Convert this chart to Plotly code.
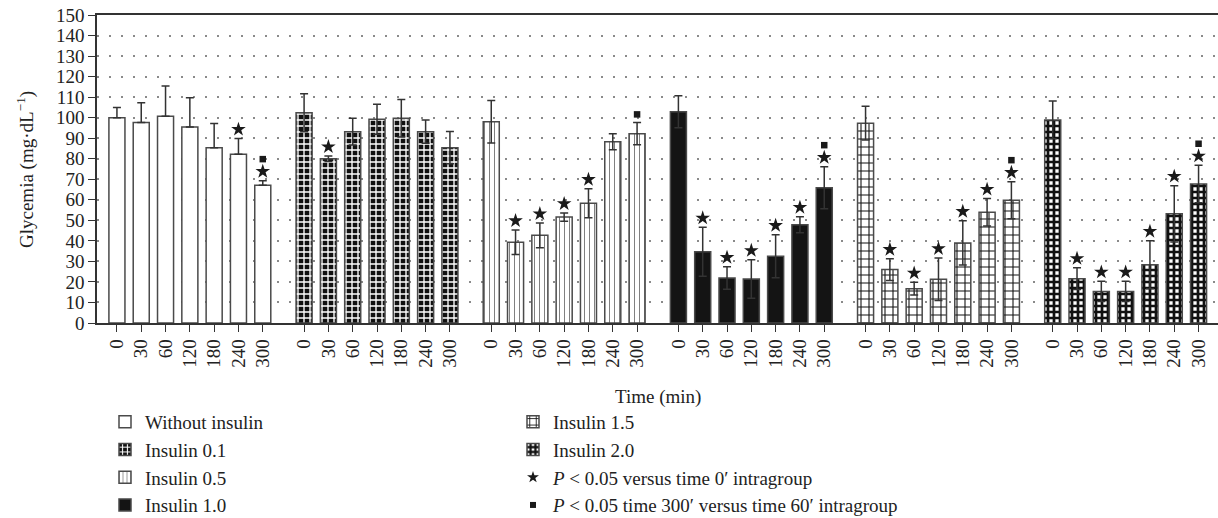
import plotly.graph_objects as go

# ---------------- data ----------------
times = ["0", "30", "60", "120", "180", "240", "300"]
group_names = ["Without insulin", "Insulin 0.1", "Insulin 0.5",
               "Insulin 1.0", "Insulin 1.5", "Insulin 2.0"]

mean_without = [100.0, 97.7, 100.7, 95.5, 85.4, 82.2, 67.1]
err_without = [5.0, 9.6, 14.7, 14.2, 11.7, 7.6, 2.2]

mean_ins01 = [102.4, 80.0, 93.2, 99.2, 99.7, 93.2, 85.4]
err_ins01 = [9.3, 1.3, 6.5, 7.3, 9.1, 5.7, 7.9]

mean_ins05 = [98.0, 39.3, 42.7, 51.6, 58.3, 88.3, 92.2]
err_ins05 = [10.3, 6.0, 6.0, 2.0, 7.1, 3.9, 5.4]

mean_ins10 = [102.9, 34.7, 21.9, 21.4, 32.5, 47.9, 65.9]
err_ins10 = [7.8, 11.9, 5.5, 9.4, 10.5, 3.9, 10.2]

mean_ins15 = [97.3, 26.0, 16.7, 21.3, 39.0, 53.9, 59.8]
err_ins15 = [8.2, 5.3, 3.1, 10.4, 10.8, 6.7, 9.0]

mean_ins20 = [98.9, 21.6, 15.4, 15.4, 28.4, 53.2, 67.7]
err_ins20 = [9.2, 5.3, 4.9, 4.9, 11.7, 13.7, 9.1]

# significance flags (1 = marker shown)
star_without = [0, 0, 0, 0, 0, 1, 1]
star_ins01 = [0, 1, 0, 0, 0, 0, 0]
star_ins05 = [0, 1, 1, 1, 1, 0, 0]
star_ins10 = [0, 1, 1, 1, 1, 1, 1]
star_ins15 = [0, 1, 1, 1, 1, 1, 1]
star_ins20 = [0, 1, 1, 1, 1, 1, 1]

square_without = [0, 0, 0, 0, 0, 0, 1]
square_ins01 = [0, 0, 0, 0, 0, 0, 0]
square_ins05 = [0, 0, 0, 0, 0, 0, 1]
square_ins10 = [0, 0, 0, 0, 0, 0, 1]
square_ins15 = [0, 0, 0, 0, 0, 0, 1]
square_ins20 = [0, 0, 0, 0, 0, 0, 1]

means = [mean_without, mean_ins01, mean_ins05, mean_ins10, mean_ins15, mean_ins20]
errs = [err_without, err_ins01, err_ins05, err_ins10, err_ins15, err_ins20]
stars = [star_without, star_ins01, star_ins05, star_ins10, star_ins15, star_ins20]
squares = [square_without, square_ins01, square_ins05, square_ins10, square_ins15, square_ins20]

# ---------------- styles ----------------
FONT = "Liberation Serif"
GROUP_STEP = 7.7
OUTLINE = "#4a4a4a"

styles = [
    dict(color="white", pattern=dict(shape="")),
    dict(color="black", pattern=dict(shape="+", bgcolor="#111111", fgcolor="white",
                                     size=6, solidity=0.4, fillmode="replace")),
    dict(color="white", pattern=dict(shape="|", bgcolor="white", fgcolor="#555555",
                                     size=5, solidity=0.15, fillmode="replace")),
    dict(color="#141414", pattern=dict(shape="")),
    dict(color="white", pattern=dict(shape="+", bgcolor="white", fgcolor="#111111",
                                     size=8, solidity=0.25, fillmode="replace")),
    dict(color="white", pattern=dict(shape="+", bgcolor="white", fgcolor="#111111",
                                     size=6, solidity=0.7, fillmode="replace")),
]

fig = go.Figure()

tickvals, ticktext = [], []
star_x, star_y, sq_x, sq_y = [], [], [], []

for g, (name, m, e, st, sq, sty) in enumerate(zip(group_names, means, errs, stars, squares, styles)):
    xs = [g * GROUP_STEP + i for i in range(len(times))]
    tickvals += xs
    ticktext += times
    minus = [0] * len(e) if g == 0 else e
    fig.add_trace(go.Bar(
        x=xs, y=m, name=name, width=0.66,
        marker=dict(color=sty["color"], pattern=sty["pattern"],
                    line=dict(color=OUTLINE, width=1.5)),
        error_y=dict(type="data", symmetric=False, array=e, arrayminus=minus,
                     color="#333333", thickness=1.5, width=4),
        legend="legend" if g < 4 else "legend2",
    ))
    for i, x in enumerate(xs):
        top = m[i] + e[i]
        if st[i]:
            star_x.append(x)
            star_y.append(top + 4.5)
            if sq[i]:
                sq_x.append(x)
                sq_y.append(top + 10.5)
        elif sq[i]:
            sq_x.append(x)
            sq_y.append(top + 4.0)

fig.add_trace(go.Scatter(x=star_x, y=star_y, mode="markers", showlegend=False,
                         marker=dict(symbol="star", size=11, color="#1a1a1a")))
fig.add_trace(go.Scatter(x=sq_x, y=sq_y, mode="markers", showlegend=False,
                         marker=dict(symbol="square", size=6.5, color="#1a1a1a")))

# legend-only entries for the significance markers
fig.add_trace(go.Scatter(x=[None], y=[None], mode="markers", legend="legend2",
                         name="<i>P</i> &lt; 0.05 versus time 0\u2032 intragroup",
                         marker=dict(symbol="star", size=9, color="#1a1a1a")))
fig.add_trace(go.Scatter(x=[None], y=[None], mode="markers", legend="legend2",
                         name="<i>P</i> &lt; 0.05 time 300\u2032 versus time 60\u2032 intragroup",
                         marker=dict(symbol="square", size=6, color="#1a1a1a")))

leg_common = dict(orientation="v", xref="container", yref="container",
                  xanchor="left", yanchor="top", bgcolor="rgba(0,0,0,0)",
                  font=dict(family=FONT, size=19, color="#222"),
                  traceorder="normal", itemwidth=30)

fig.update_layout(
    width=1218, height=518,
    margin=dict(l=97, r=0, t=15, b=195, autoexpand=False),
    paper_bgcolor="white", plot_bgcolor="white",
    barmode="overlay",
    font=dict(family=FONT, size=19, color="#222"),
    legend=dict(x=105 / 1218, y=1 - 403 / 518, **leg_common),
    legend2=dict(x=513 / 1218, y=1 - 403 / 518, **leg_common),
    xaxis=dict(
        range=[-0.82, 45.3], tickmode="array", tickvals=tickvals, ticktext=ticktext,
        tickangle=-90, ticks="outside", ticklen=7, tickwidth=1.2, tickcolor="#333",
        showline=True, linecolor="#333", linewidth=1.5, mirror=True,
        showgrid=False, zeroline=False, automargin=False,
        tickfont=dict(family=FONT, size=19, color="#222"),
    ),
    yaxis=dict(
        range=[0, 150], tickmode="linear", tick0=0, dtick=10,
        ticks="outside", ticklen=7, tickwidth=1.2, tickcolor="#333",
        showline=True, linecolor="#333", linewidth=1.5,
        showgrid=True, gridcolor="#8a8a8a", gridwidth=1.5, griddash="2px,10px",
        zeroline=False, automargin=False,
        tickfont=dict(family=FONT, size=19, color="#222"),
    ),
    annotations=[
        dict(text="Time (min)", xref="paper", yref="paper", x=0.5, y=(323 - 397) / 308,
             showarrow=False, font=dict(family=FONT, size=19, color="#222"),
             xanchor="center", yanchor="middle"),
        dict(text="Glycemia (mg\u00b7dL<sup>\u22121</sup>)", xref="paper", yref="paper",
             x=(25 - 97) / 1121, y=(323 - 170) / 308, textangle=-90, showarrow=False,
             font=dict(family=FONT, size=19, color="#222"),
             xanchor="center", yanchor="middle"),
    ],
)

fig.write_html("out.html", config={"displayModeBar": False},
               post_script="document.body.style.margin='0px';")
